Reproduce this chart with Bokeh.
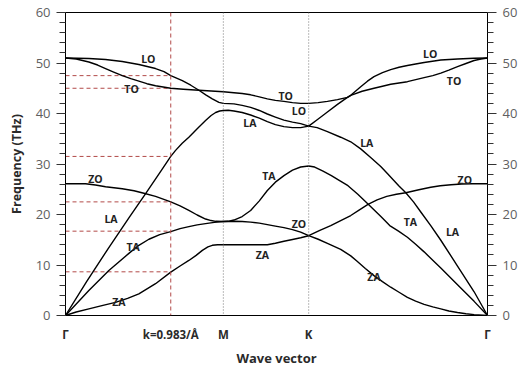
from bokeh.plotting import figure
from bokeh.models import LinearAxis, FixedTicker, SingleIntervalTicker, Span, Range1d
from bokeh.core.properties import value
from bokeh.embed import file_html
from bokeh.resources import INLINE

# ---------------- data ----------------
tick_pos = [0.0, 0.983, 1.474, 2.271, 3.941]
tick_labels = ["Γ", "k=0.983/Å", "M", "K", "Γ"]

red_k = 0.983
red_levels = [47.5, 45.0, 31.5, 22.5, 16.7, 8.65]

za_k = [0, 0.1, 0.218, 0.34, 0.467, 0.58, 0.685, 0.841, 0.983, 1.07, 1.152, 1.22, 1.278, 1.33, 1.371, 1.42, 1.474,
        1.729, 1.885, 1.96, 2.04, 2.12, 2.196, 2.271,
        2.36, 2.446, 2.57, 2.664, 2.726, 2.8, 2.881, 2.96, 3.037, 3.115, 3.193, 3.27, 3.349, 3.43, 3.505,
        3.58, 3.661, 3.74, 3.816, 3.941]
za_f = [0, 0.7, 1.3, 1.95, 2.6, 3.4, 4.3, 6.3, 8.6, 9.8, 10.9, 11.9, 12.9, 13.6, 13.9, 14.0, 14.0,
        14.0, 14.0, 14.3, 14.7, 15.05, 15.4, 15.8,
        15.1, 14.3, 13.1, 11.8, 10.7, 9.3, 7.9, 6.7, 5.6, 4.6, 3.6, 2.85, 2.2, 1.7, 1.3,
        0.9, 0.6, 0.35, 0.18, 0]

ta_k = [0, 0.218, 0.405, 0.592, 0.685, 0.779, 0.88, 0.983, 1.07, 1.152, 1.23, 1.308, 1.39, 1.474,
        1.52, 1.573, 1.65, 1.729, 1.81, 1.885, 1.96, 2.04, 2.12, 2.196, 2.271,
        2.327, 2.405, 2.483, 2.56, 2.638, 2.73, 2.825, 2.95, 3.028, 3.11, 3.193, 3.27, 3.349, 3.505, 3.661, 3.816, 3.941]
ta_f = [0, 4.95, 8.9, 12.3, 13.9, 15.1, 16.0, 16.6, 17.2, 17.6, 17.95, 18.2, 18.45, 18.6,
        18.65, 18.9, 19.6, 20.8, 22.7, 24.75, 26.4, 27.7, 28.8, 29.4, 29.6,
        29.4, 28.6, 27.7, 26.7, 25.7, 24.0, 22.1, 19.5, 17.8, 16.7, 15.5, 14.1, 12.6, 9.4, 6.1, 2.8, 0]

la_k = [0, 0.2, 0.4, 0.6, 0.75, 0.9, 0.983, 1.028, 1.09, 1.152, 1.23, 1.308, 1.36, 1.402, 1.44, 1.474,
        1.52, 1.573, 1.65, 1.729, 1.81, 1.885, 1.96, 2.04, 2.12, 2.196, 2.271,
        2.35, 2.446, 2.57, 2.664, 2.757, 2.85, 2.944, 3.006, 3.06, 3.112, 3.178, 3.25, 3.318, 3.411,
        3.505, 3.661, 3.816, 3.941]
la_f = [0, 6.8, 13.3, 19.6, 24.2, 28.9, 31.5, 32.7, 34.1, 35.3, 37.0, 38.6, 39.6, 40.2, 40.5, 40.6,
        40.65, 40.5, 40.2, 39.7, 39.1, 38.4, 37.8, 37.4, 37.2, 37.2, 37.5,
        37.2, 36.4, 35.3, 34.4, 33.0, 31.3, 29.5, 28.1, 26.9, 25.7, 24.3, 22.5, 20.5, 17.8,
        14.9, 9.8, 4.7, 0]

zo_k = [0, 0.187, 0.28, 0.374, 0.53, 0.64, 0.732, 0.841, 0.983, 1.07, 1.152, 1.23, 1.308, 1.36, 1.402, 1.474,
        1.573, 1.65, 1.729, 1.81, 1.885, 1.96, 2.04, 2.12, 2.196, 2.271,
        2.37, 2.477, 2.57, 2.664, 2.745, 2.825, 2.91, 3.0, 3.09, 3.178, 3.3, 3.411, 3.5, 3.6, 3.7, 3.8, 3.941]
zo_f = [26.1, 26.1, 25.85, 25.5, 25.1, 24.7, 24.2, 23.6, 22.5, 21.7, 20.8, 19.9, 19.1, 18.8, 18.65, 18.6,
        18.65, 18.6, 18.5, 18.3, 18.0, 17.7, 17.4, 17.0, 16.5, 15.8,
        16.8, 17.8, 18.8, 19.8, 20.9, 22.0, 22.9, 23.6, 24.0, 24.3, 24.9, 25.4, 25.7, 25.9, 26.05, 26.1, 26.1]

to_k = [0, 0.1, 0.218, 0.3, 0.374, 0.45, 0.53, 0.61, 0.685, 0.76, 0.841, 0.983, 1.1, 1.246, 1.36, 1.474,
        1.573, 1.65, 1.729, 1.81, 1.885, 1.96, 2.04, 2.12, 2.196, 2.271,
        2.36, 2.446, 2.54, 2.633, 2.664, 2.77, 2.881, 2.96, 3.037, 3.193, 3.349, 3.43, 3.505, 3.58, 3.661, 3.74, 3.816, 3.88, 3.941]
to_f = [51.0, 50.8, 50.2, 49.6, 48.9, 48.2, 47.5, 46.9, 46.4, 45.9, 45.5, 45.0, 44.8, 44.6, 44.45, 44.3,
        44.1, 43.95, 43.7, 43.3, 42.9, 42.6, 42.4, 42.15, 42.0, 42.0,
        42.15, 42.4, 42.75, 43.2, 43.6, 44.4, 45.0, 45.4, 45.8, 46.3, 47.1, 47.5, 48.0, 48.6, 49.3, 49.9, 50.5, 50.8, 51.0]

lo_k = [0, 0.218, 0.374, 0.53, 0.685, 0.841, 0.92, 0.983, 1.091, 1.17, 1.246, 1.31, 1.371, 1.433, 1.474,
        1.573, 1.65, 1.729, 1.81, 1.885, 1.96, 2.04, 2.12, 2.196, 2.271,
        2.36, 2.446, 2.54, 2.633, 2.664, 2.757, 2.82, 2.881, 2.96, 3.037, 3.115, 3.193, 3.27, 3.349, 3.505, 3.661, 3.816, 3.941]
lo_f = [51.0, 50.9, 50.7, 50.3, 49.7, 48.9, 48.3, 47.5, 46.5, 45.6, 44.6, 43.7, 42.9, 42.2, 42.0,
        41.9, 41.6, 41.2, 40.6, 39.9, 39.3, 38.7, 38.3, 38.0, 37.5,
        38.9, 40.3, 41.8, 43.2, 43.6, 45.3, 46.4, 47.3, 48.1, 48.7, 49.15, 49.5, 49.8, 50.1, 50.6, 50.8, 50.95, 51.0]

lab_t = ["LO", "TO", "LA", "TO", "LO", "LA", "LO", "TO",
         "ZO", "LA", "TA", "ZA", "TA", "ZO", "ZA", "ZO", "TA", "LA", "ZA"]
lab_x = [0.773, 0.617, 1.722, 2.056, 2.180, 2.813, 3.405, 3.629,
         0.280, 0.425, 0.631, 0.498, 1.900, 2.180, 1.838, 3.729, 3.220, 3.614, 2.881]
lab_y = [50.8, 44.9, 38.1, 43.4, 40.5, 34.2, 51.8, 46.4,
         27.1, 19.1, 13.5, 2.6, 27.7, 18.2, 11.9, 26.9, 18.5, 16.5, 7.6]

# ---------------- figure ----------------
FONT = "Open Sans"
p = figure(width=522, height=369, x_range=Range1d(tick_pos[0], tick_pos[-1]),
           y_range=Range1d(0, 60), output_backend="svg", toolbar_location=None,
           min_border_left=65, min_border_right=35, min_border_top=12,
           min_border_bottom=54)
p.xgrid.visible = False
p.ygrid.visible = False
p.outline_line_color = "black"
p.outline_line_alpha = 1.0
p.background_fill_color = "white"
p.border_fill_color = "white"

# y axes
ax = p.yaxis[0]
ax.ticker = SingleIntervalTicker(interval=10, num_minor_ticks=5)
right = LinearAxis(ticker=SingleIntervalTicker(interval=10, num_minor_ticks=5))
p.add_layout(right, "right")
for a in (ax, right):
    a.axis_line_color = "black"
    a.major_tick_in = 0
    a.major_tick_out = 9
    a.minor_tick_in = 0
    a.minor_tick_out = 6
    a.major_tick_line_color = "#333333"
    a.minor_tick_line_color = "#333333"
    a.major_label_text_font = FONT
    a.major_label_text_font_size = "13px"
    a.major_label_text_color = "#5f5f5f"
    a.major_label_standoff = 6
ax.axis_label = "Frequency (THz)"
ax.axis_label_text_font = FONT
ax.axis_label_text_font_style = "bold"
ax.axis_label_text_font_size = "12.5px"
ax.axis_label_text_color = "#2a2a2a"
ax.axis_label_standoff = 8

# x axis
xa = p.xaxis[0]
xa.ticker = FixedTicker(ticks=tick_pos)
xa.major_label_overrides = {t: l for t, l in zip(tick_pos, tick_labels)}
xa.major_tick_out = 0
xa.major_tick_in = 0
xa.minor_tick_out = 0
xa.axis_line_color = "black"
xa.major_label_text_font = FONT
xa.major_label_text_font_style = "bold"
xa.major_label_text_font_size = "11.5px"
xa.major_label_text_color = "#2a2a2a"
xa.major_label_standoff = 11
xa.axis_label = "Wave vector"
xa.axis_label_text_font = FONT
xa.axis_label_text_font_style = "bold"
xa.axis_label_text_font_size = "13px"
xa.axis_label_text_color = "#2a2a2a"
xa.axis_label_standoff = 4

# reference lines
RED = "#b24a48"
p.add_layout(Span(location=tick_pos[1], dimension="height", line_color=RED,
                  line_dash="4 3", line_width=1))
for loc in (tick_pos[2], tick_pos[3]):
    p.add_layout(Span(location=loc, dimension="height", line_color="#777777",
                      line_dash="1 2", line_width=1))
n = len(red_levels)
p.segment(x0=[tick_pos[0]] * n, y0=red_levels, x1=[red_k] * n, y1=red_levels,
          line_color=RED, line_dash="4 3", line_width=1)

# dispersion branches
for kx, fy in ((za_k, za_f), (ta_k, ta_f), (la_k, la_f),
               (zo_k, zo_f), (to_k, to_f), (lo_k, lo_f)):
    p.line(kx, fy, line_color="black", line_width=1.4, line_join="round")

# branch labels
p.text(x=lab_x, y=lab_y, text=lab_t, text_font=value(FONT), text_font_style="bold",
       text_font_size="10.5px", text_align="center", text_baseline="middle",
       text_color="#222222")

open("out.html", "w").write(file_html(p, INLINE))
